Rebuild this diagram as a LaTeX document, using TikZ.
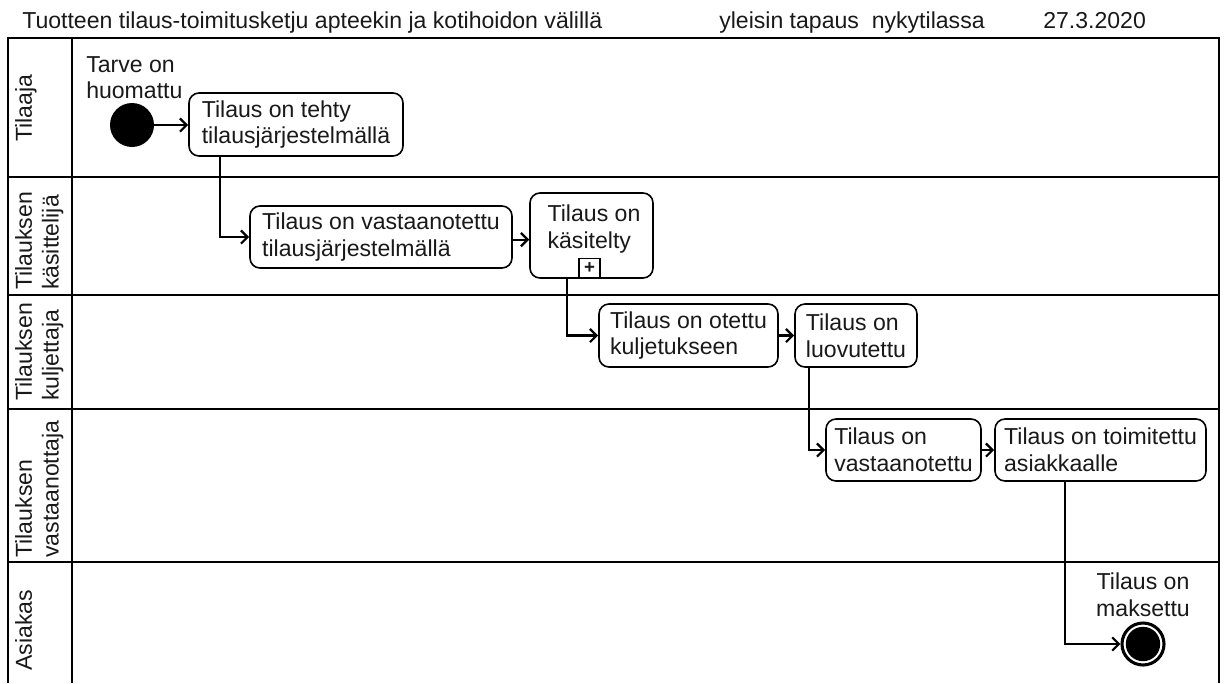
\documentclass[tikz,border=0pt]{standalone}
\usepackage{fontspec}
\setmainfont{Liberation Sans}
\usetikzlibrary{arrows.meta,calc}
\begin{document}
\begin{tikzpicture}[x=0.75pt,y=-0.75pt,
  every node/.style={font=\fontsize{17.3}{20}\selectfont, text=black!90},
  frame/.style={line width=1.3pt},
  lane/.style={line width=2pt},
  box/.style={draw, line width=1.2pt, rounded corners=7.5pt, align=left, inner sep=0pt},
  flow/.style={line width=1.7pt, -{Straight Barb[length=5pt,width=10pt]}},
  lanelabel/.style={rotate=90, anchor=north, align=left, inner sep=0pt},
  freetext/.style={align=left, inner sep=0pt}]
\useasboundingbox (0,0) rectangle (1227,683);

% header
\node[anchor=base west, inner sep=0pt] (title) at (22,28) {Tuotteen tilaus-toimitusketju apteekin ja kotihoidon välillä};
\node[anchor=base west, inner sep=0pt] (case) at (719,28) {yleisin tapaus~ nykytilassa};
\node[anchor=base west, inner sep=0pt] (date) at (1043,28) {27.3.2020};

% pool frame
\draw[frame] (8,683) -- (8,38) -- (1219,38) -- (1219,683);
\draw[lane] (72,38) -- (72,683);
\draw[lane] (8,177) -- (1219,177);
\draw[lane] (8,295) -- (1219,295);
\draw[lane] (8,409) -- (1219,409);
\draw[lane] (8,562) -- (1219,562);

% lane labels
\node[lanelabel] (l1) at (15,108) {Tilaaja};
\node[lanelabel] (l2) at (15,241) {Tilauksen\\käsittelijä};
\node[lanelabel] (l3) at (15,352) {Tilauksen\\kuljettaja};
\node[lanelabel] (l4) at (15,489) {Tilauksen\\vastaanottaja};
\node[lanelabel] (l5) at (15,630) {Asiakas};

% events
\node[circle, fill=black, minimum size=33pt, inner sep=0pt] (start) at (132,125) {};
\node[freetext, anchor=north west] (startlbl) at (86,56) {Tarve on\\huomattu};
\node[circle, draw=black, line width=2.3pt, minimum size=31.5pt, inner sep=0pt] (end) at (1143,644) {};
\fill[black] (end.center) circle[radius=12.9pt];
\node[freetext, align=center] (endlbl) at (1143,595) {Tilaus on\\maksettu};

% tasks
\node[box, minimum width=160.5pt, minimum height=47.25pt] (b1) at (296,124.5) {Tilaus on tehty\\tilausjärjestelmällä};
\node[box, minimum width=196.5pt, minimum height=46.5pt] (b2) at (381,237) {Tilaus on vastaanotettu\\tilausjärjestelmällä};
\node[box, minimum width=92.25pt, minimum height=63.75pt] (b3) at (591.5,235.5) {};
\node[freetext] (b3t) at (594,229) {Tilaus on\\käsitelty};
\node[draw, line width=0.9pt, minimum width=15.75pt, minimum height=15pt, inner sep=0pt, anchor=south,
      font=\fontsize{14}{14}\selectfont\bfseries] (plus) at ([xshift=-1.5pt]b3.south) {+};
\node[box, minimum width=134.25pt, minimum height=47.25pt] (b4) at (688.5,335.5) {Tilaus on otettu\\kuljetukseen};
\node[box, minimum width=91.5pt, minimum height=47.25pt] (b5) at (856,335.5) {Tilaus on\\luovutettu};
\node[box, minimum width=116.25pt, minimum height=46.5pt] (b6) at (903.5,450) {Tilaus on\\vastaanotettu};
\node[box, minimum width=158.25pt, minimum height=46.5pt] (b7) at (1100.5,450) {Tilaus on toimitettu\\asiakkaalle};

% flows
\draw[flow] (start.east) -- (start.east -| b1.west);
\draw[flow] ([xshift=24pt]b1.south west) |- (b2.west);
\draw[flow] ([yshift=-2pt]b2.east) -- ([yshift=-2pt]b2.east -| b3.west);
\draw[flow] ([xshift=28.5pt]b3.south west) |- (b4.west);
\draw[flow] (b4.east) -- (b4.east -| b5.west);
\draw[flow] ([xshift=11.25pt]b5.south west) |- (b6.west);
\draw[flow] (b6.east) -- (b6.east -| b7.west);
\draw[flow] ([xshift=53.25pt]b7.south west) |- (end.west);
\end{tikzpicture}
\end{document}
